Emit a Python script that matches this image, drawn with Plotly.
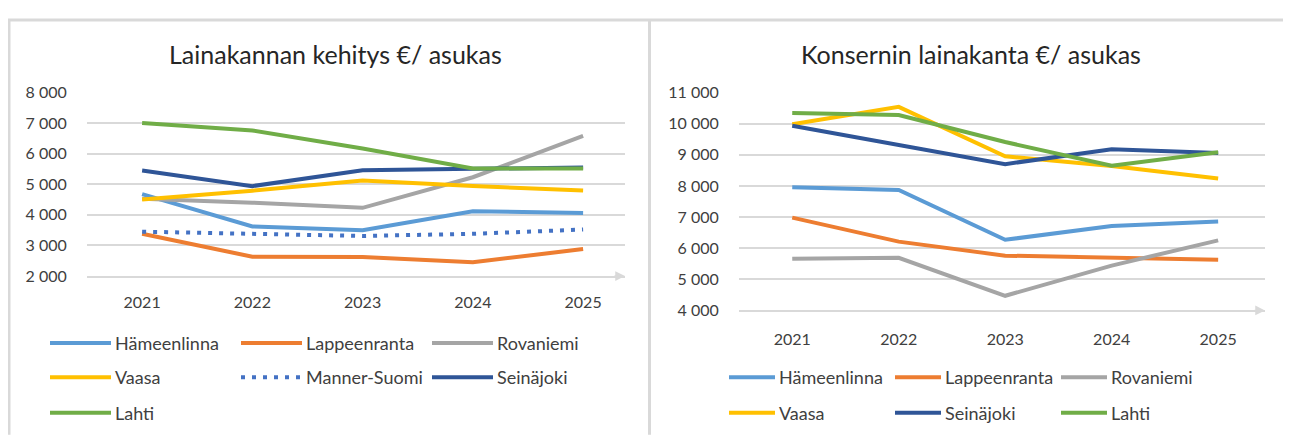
import plotly.graph_objects as go

# Browser window is 1291x444; body has default 8px margin, so the figure is 16px smaller.
WIN_W, WIN_H = 1291, 444
MARGIN = 8
W, H = WIN_W - 2 * MARGIN, WIN_H - 2 * MARGIN

years = ["2021", "2022", "2023", "2024", "2025"]

# Left chart: Lainakannan kehitys €/ asukas
left_names = ["Hämeenlinna", "Lappeenranta", "Rovaniemi", "Vaasa", "Manner-Suomi", "Seinäjoki", "Lahti"]
hameenlinna_l = [4680, 3620, 3500, 4120, 4060]
lappeenranta_l = [3380, 2630, 2620, 2450, 2880]
rovaniemi_l = [4530, 4400, 4230, 5230, 6580]
vaasa_l = [4500, 4790, 5120, 4940, 4800]
manner_l = [3450, 3380, 3310, 3380, 3520]
seinajoki_l = [5450, 4940, 5460, 5520, 5550]
lahti_l = [7000, 6760, 6170, 5520, 5520]
left_values = [hameenlinna_l, lappeenranta_l, rovaniemi_l, vaasa_l, manner_l, seinajoki_l, lahti_l]

# Right chart: Konsernin lainakanta €/ asukas
right_names = ["Hämeenlinna", "Lappeenranta", "Rovaniemi", "Vaasa", "Seinäjoki", "Lahti"]
hameenlinna_r = [7960, 7870, 6270, 6710, 6860]
lappeenranta_r = [6980, 6210, 5760, 5690, 5630]
rovaniemi_r = [5660, 5690, 4470, 5440, 6250]
vaasa_r = [9980, 10540, 8950, 8640, 8240]
seinajoki_r = [9930, 9300, 8700, 9180, 9060]
lahti_r = [10340, 10280, 9410, 8650, 9080]
right_values = [hameenlinna_r, lappeenranta_r, rovaniemi_r, vaasa_r, seinajoki_r, lahti_r]

colors = {
    "Hämeenlinna": "#5B9BD5",
    "Lappeenranta": "#ED7D31",
    "Rovaniemi": "#A5A5A5",
    "Vaasa": "#FFC000",
    "Manner-Suomi": "#4472C4",
    "Seinäjoki": "#2F5597",
    "Lahti": "#70AD47",
}
dashes = {"Manner-Suomi": "4px,7px"}

FONT = "Lato"
TXT = "#404040"
GRID = "#D9D9D9"


def px(x):
    return (x - MARGIN) / W


def py(y):
    return 1 - (y - MARGIN) / H


fig = go.Figure()
for name, vals in zip(left_names, left_values):
    fig.add_trace(go.Scatter(
        x=list(range(len(years))), y=vals, mode="lines", name=name,
        line=dict(color=colors[name], width=4, dash=dashes.get(name, "solid")),
        xaxis="x", yaxis="y", showlegend=False, hoverinfo="skip"))
for name, vals in zip(right_names, right_values):
    fig.add_trace(go.Scatter(
        x=list(range(len(years))), y=vals, mode="lines", name=name,
        line=dict(color=colors[name], width=4),
        xaxis="x2", yaxis="y2", showlegend=False, hoverinfo="skip"))

axis_font = dict(family=FONT, size=16, color=TXT)
xcommon = dict(tickvals=list(range(len(years))), ticktext=years,
               showgrid=False, zeroline=False, showline=True, linecolor=GRID, linewidth=2,
               ticks="outside", tickcolor="rgba(0,0,0,0)", tickfont=axis_font, fixedrange=True)
ycommon = dict(dtick=1000, tickformat=",d", showgrid=True, gridcolor=GRID, gridwidth=2,
               zeroline=False, showline=False, ticks="outside", ticklen=16,
               tickcolor="rgba(0,0,0,0)", tickfont=axis_font, fixedrange=True)

fig.update_layout(
    width=W, height=H, autosize=False,
    margin=dict(l=0, r=0, t=0, b=0),
    paper_bgcolor="white", plot_bgcolor="white",
    separators=", ",
    font=dict(family=FONT, color=TXT),
    xaxis=dict(domain=[px(87), px(625)], range=[-0.5, 4.38], anchor="y", ticklen=11, **xcommon),
    yaxis=dict(domain=[py(278), py(86)], range=[2000, 8000], anchor="x", **ycommon),
    xaxis2=dict(domain=[px(739), px(1265)], range=[-0.5, 4.44], anchor="y2", ticklen=13, **xcommon),
    yaxis2=dict(domain=[py(314), py(86)], range=[4000, 11000], anchor="x2", **ycommon),
)

shapes = []
annotations = []

# outer frame and divider
shapes.append(dict(type="line", xref="paper", yref="paper", x0=px(8), x1=px(1291), y0=py(10), y1=py(10),
                   line=dict(color=GRID, width=3)))
shapes.append(dict(type="line", xref="paper", yref="paper", x0=px(9), x1=px(9), y0=py(10), y1=py(444),
                   line=dict(color=GRID, width=3)))
shapes.append(dict(type="line", xref="paper", yref="paper", x0=px(649.5), x1=px(649.5), y0=py(10), y1=py(444),
                   line=dict(color=GRID, width=3)))

# axis arrows
annotations.append(dict(xref="x", yref="y", x=4.38, y=2000, ax=-12, ay=0, text="", showarrow=True,
                        arrowhead=2, arrowsize=1.3, arrowwidth=1.5, arrowcolor=GRID))
annotations.append(dict(xref="x2", yref="y2", x=4.44, y=4000, ax=-12, ay=0, text="", showarrow=True,
                        arrowhead=2, arrowsize=1.3, arrowwidth=1.5, arrowcolor=GRID))

# titles
title_font = dict(family=FONT, size=25, color="#262626")
annotations.append(dict(xref="paper", yref="paper", x=px(335), y=py(46), text="Lainakannan kehitys €/ asukas",
                        showarrow=False, xanchor="center", yanchor="middle", font=title_font))
annotations.append(dict(xref="paper", yref="paper", x=px(971), y=py(46), text="Konsernin lainakanta €/ asukas",
                        showarrow=False, xanchor="center", yanchor="middle", font=title_font))

# legends (manual grid)
leg_font = dict(family=FONT, size=18, color=TXT)


def add_legend(names, x_starts, line_len, text_gap, rows):
    for i, name in enumerate(names):
        col = i % 3
        row = i // 3
        x0 = x_starts[col]
        yy = rows[row]
        shapes.append(dict(type="line", xref="paper", yref="paper",
                           x0=px(x0), x1=px(x0 + line_len), y0=py(yy), y1=py(yy),
                           line=dict(color=colors[name], width=4, dash=dashes.get(name, "solid"))))
        annotations.append(dict(xref="paper", yref="paper", x=px(x0 + line_len + text_gap), y=py(yy),
                                text=name, showarrow=False, xanchor="left", yanchor="middle",
                                font=leg_font))


add_legend(left_names, [50, 241, 432], 61, 2, [348, 384, 421])
add_legend(right_names, [729, 895, 1061], 46, 2, [384, 421])

fig.update_layout(shapes=shapes, annotations=annotations)

fig.write_html("out.html", config={"displayModeBar": False, "staticPlot": True})
